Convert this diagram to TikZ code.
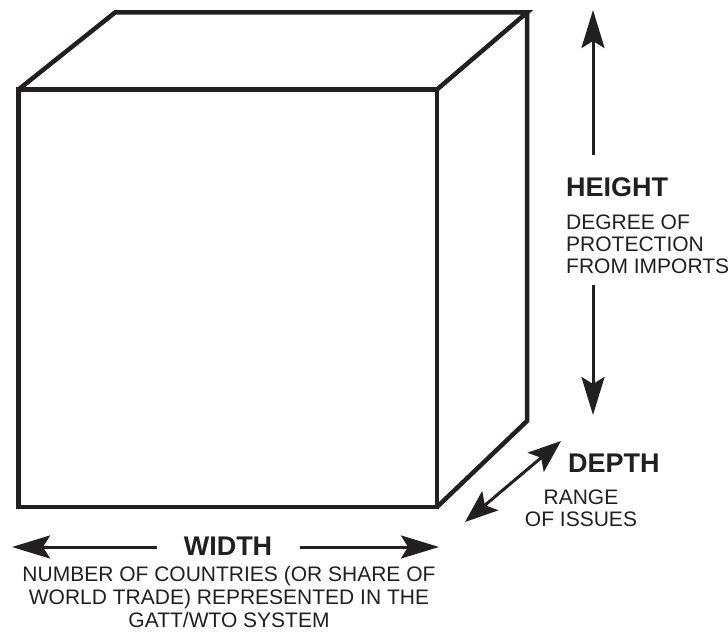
\documentclass[tikz,border=0pt]{standalone}
\usepackage{fontspec}
\setmainfont{Liberation Sans}
\usetikzlibrary{arrows.meta}
\definecolor{ink}{RGB}{35,31,32}
\begin{document}
\begin{tikzpicture}[x=1pt,y=1pt,
  cube/.style={draw=ink,line width=4.5pt,line join=miter},
  dimline/.style={draw=ink,line width=3pt},
  bighead/.style={-{Stealth[length=38pt,width=23pt,inset=7pt]}},
  dualhead/.style={{Stealth[length=33pt,width=25pt,inset=7pt]}-{Stealth[length=33pt,width=25pt,inset=7pt]}},
  heading/.style={font=\fontsize{27}{27}\selectfont\bfseries,text=ink,inner sep=0pt},
  small/.style={font=\fontsize{21}{22}\selectfont,text=ink,inner sep=0pt},
]
\useasboundingbox (0,0) rectangle (728,632);
% cube corners
\coordinate (ftl) at (18.5,542.5);
\coordinate (ftr) at (437,542.5);
\coordinate (fbr) at (437,125);
\coordinate (fbl) at (18.5,125);
\coordinate (btl) at (115,619.5);
\coordinate (btr) at (527,619.5);
\coordinate (bbr) at (527,211);
\draw[cube] (ftl) -- (ftr) -- (fbr) -- (fbl) -- cycle;
\draw[cube] (ftl) -- (btl) -- (btr) -- (ftr);
\draw[cube] (btr) -- (bbr) -- (fbr);

% height
\coordinate (htop) at (593,622);
\coordinate (hup) at (593,477);
\coordinate (hlow) at (593,347);
\coordinate (hbot) at (593,217);
\draw[dimline,bighead] (hup) -- (htop);
\draw[dimline,bighead] (hlow) -- (hbot);
\node[heading,anchor=base west] (hh) at (566,435) {HEIGHT};
\node[small,anchor=north west,align=left] (hd) at (566,417.5)
  {DEGREE OF\\PROTECTION\\FROM IMPORTS};

% width
\coordinate (wl) at (12,85);
\coordinate (wlin) at (157,85);
\coordinate (wrin) at (300,85);
\coordinate (wr) at (439,85);
\draw[dimline,bighead] (wlin) -- (wl);
\draw[dimline,bighead] (wrin) -- (wr);
\node[heading,anchor=base] (wh) at (228,77) {WIDTH};
\node[small,anchor=north,align=center,font=\fontsize{21}{23}\selectfont] (wd) at (229,66)
  {NUMBER OF COUNTRIES (OR SHARE OF\\WORLD TRADE) REPRESENTED IN THE\\GATT/WTO SYSTEM};

% depth
\coordinate (dl) at (465,110);
\coordinate (du) at (561,191);
\draw[dimline,dualhead] (dl) -- (du);
\node[heading,anchor=base west] (dh) at (568,159) {DEPTH};
\node[small,anchor=north,align=center] (dd) at (581,142)
  {RANGE\\OF ISSUES};
\end{tikzpicture}
\end{document}
